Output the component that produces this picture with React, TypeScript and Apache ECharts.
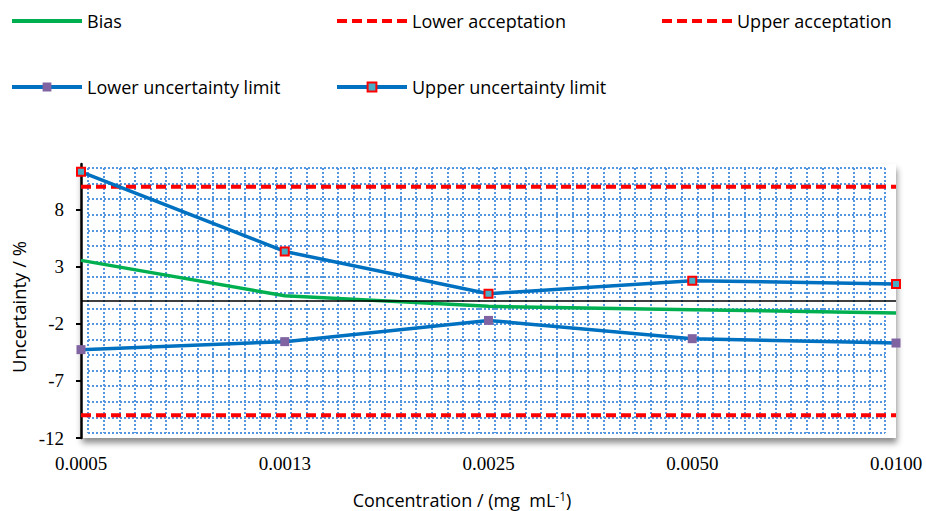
import React, { useEffect, useRef } from "react";
import * as echarts from "echarts";

const categories = ["0.0005", "0.0013", "0.0025", "0.0050", "0.0100"];
const bias = [3.56, 0.46, -0.47, -0.76, -1.05];
const lowerUncertainty = [-4.26, -3.56, -1.7, -3.3, -3.68];
const upperUncertainty = [11.32, 4.34, 0.64, 1.78, 1.49];
const lowerAcceptation = [-10, -10, -10, -10, -10];
const upperAcceptation = [10, 10, 10, 10, 10];
const yTicks = [-12, -7, -2, 3, 8];
const yMin = -12;
const yMax = 12;

const SANS = "'Open Sans', 'Noto Sans', sans-serif";
const SERIF = "'Liberation Serif', 'DejaVu Serif', serif";

export default function App() {
  const ref = useRef<HTMLDivElement>(null);
  useEffect(() => {
    if (!ref.current) return;
    const chart = echarts.init(ref.current, null, { renderer: "svg" });
    const dotted = { color: "#5596e0", width: 2, type: [2, 2] as number[] };
    const legendBase = {
      itemWidth: 70,
      itemHeight: 11,
      itemGap: 5,
      padding: 0,
      lineStyle: { width: 4 },
      textStyle: { fontFamily: SANS, fontSize: 18, color: "#000" },
      selectedMode: false,
    };
    const noSym = { itemStyle: { opacity: 0 } };
    const redDash = { color: "#ff0000", width: 4, type: [10, 5] as number[] };
    chart.setOption({
      animation: false,
      backgroundColor: "#fff",
      legend: [
        { ...legendBase, data: [{ name: "Bias", ...noSym }], left: 10, top: 12 },
        { ...legendBase, data: [{ name: "Lower acceptation", ...noSym }], left: 335, top: 12 },
        { ...legendBase, data: [{ name: "Upper acceptation", ...noSym }], left: 660, top: 12 },
        { ...legendBase, data: ["Lower uncertainty limit"], left: 10, top: 78 },
        { ...legendBase, data: ["Upper uncertainty limit"], left: 335, top: 78 },
      ],
      grid: [
        {
          left: 81,
          right: 30,
          top: 164,
          bottom: 73,
          show: true,
          backgroundColor: "#fff",
          borderWidth: 0,
          shadowColor: "rgba(0,0,0,0.45)",
          shadowBlur: 6,
          shadowOffsetX: 1,
          shadowOffsetY: 5,
        },
        { left: 88, width: 797, top: 168, height: 265, show: false },
      ],
      xAxis: [
        {
          type: "category",
          data: categories,
          boundaryGap: false,
          gridIndex: 0,
          axisLine: { show: false },
          axisTick: { show: false },
          splitLine: { show: false },
          axisLabel: { fontFamily: SERIF, fontSize: 19, color: "#000", margin: 16 },
        },
        {
          type: "value",
          gridIndex: 1,
          min: 0,
          max: 51,
          interval: 1,
          axisLine: { show: false },
          axisTick: { show: false },
          axisLabel: { show: false },
          splitLine: { show: true, lineStyle: dotted },
        },
      ],
      yAxis: [
        {
          type: "value",
          gridIndex: 0,
          min: yMin,
          max: yMax,
          interval: 5,
          name: "Uncertainty / %",
          nameLocation: "middle",
          nameGap: 50,
          nameTextStyle: { fontFamily: SANS, fontSize: 18.5, color: "#000", padding: [0, 12, 0, 0] },
          axisLine: { show: true, lineStyle: { color: "#000", width: 2.5 } },
          axisTick: {
            show: true,
            length: 5,
            lineStyle: { color: "#000", width: 2 },
            customValues: yTicks,
          },
          axisLabel: {
            fontFamily: SERIF,
            fontSize: 19,
            color: "#000",
            margin: 17,
            customValues: yTicks,
          },
          splitLine: { show: false },
        },
        {
          type: "value",
          gridIndex: 1,
          min: 0,
          max: 17,
          interval: 1,
          axisLine: { show: false },
          axisTick: { show: false },
          axisLabel: { show: false },
          splitLine: { show: true, lineStyle: dotted },
        },
      ],
      graphic: [
        {
          type: "text",
          style: {
            text: "Concentration / (mg  mL{sup|-1})",
            x: 462,
            y: 500,
            align: "center",
            verticalAlign: "middle",
            fontFamily: SANS,
            fontSize: 18,
            fill: "#000",
            rich: {
              sup: { fontFamily: SANS, fontSize: 12, verticalAlign: "top", padding: [0, 0, 7, 0] },
            },
          },
        } as any,
      ],
      series: [
        {
          name: "Bias",
          type: "line",
          data: bias,
          xAxisIndex: 0,
          yAxisIndex: 0,
          symbol: "none",
          lineStyle: { color: "#00b050", width: 3.5 },
          itemStyle: { color: "#00b050" },
          markLine: {
            silent: true,
            symbol: "none",
            label: { show: false },
            lineStyle: { color: "#000", width: 1.5, type: "solid" },
            data: [{ yAxis: 0 }],
          },
          z: 3,
        },
        {
          name: "Lower acceptation",
          type: "line",
          data: lowerAcceptation,
          symbol: "none",
          lineStyle: redDash,
          itemStyle: { color: "#ff0000" },
          z: 2,
        },
        {
          name: "Upper acceptation",
          type: "line",
          data: upperAcceptation,
          symbol: "none",
          lineStyle: redDash,
          itemStyle: { color: "#ff0000" },
          z: 2,
        },
        {
          name: "Lower uncertainty limit",
          type: "line",
          data: lowerUncertainty,
          symbol: "rect",
          symbolSize: 9,
          showAllSymbol: true,
          lineStyle: { color: "#0070c0", width: 3.5 },
          itemStyle: { color: "#8064a2", borderWidth: 0 },
          z: 4,
        },
        {
          name: "Upper uncertainty limit",
          type: "line",
          data: upperUncertainty,
          symbol: "rect",
          symbolSize: 8,
          showAllSymbol: true,
          lineStyle: { color: "#0070c0", width: 3.5 },
          itemStyle: { color: "#4bacc6", borderColor: "#ff0000", borderWidth: 2 },
          z: 4,
        },
      ],
    });
    return () => chart.dispose();
  }, []);
  return <div ref={ref} style={{ width: 926, height: 511, position: "absolute", left: 0, top: 0 }} />;
}
